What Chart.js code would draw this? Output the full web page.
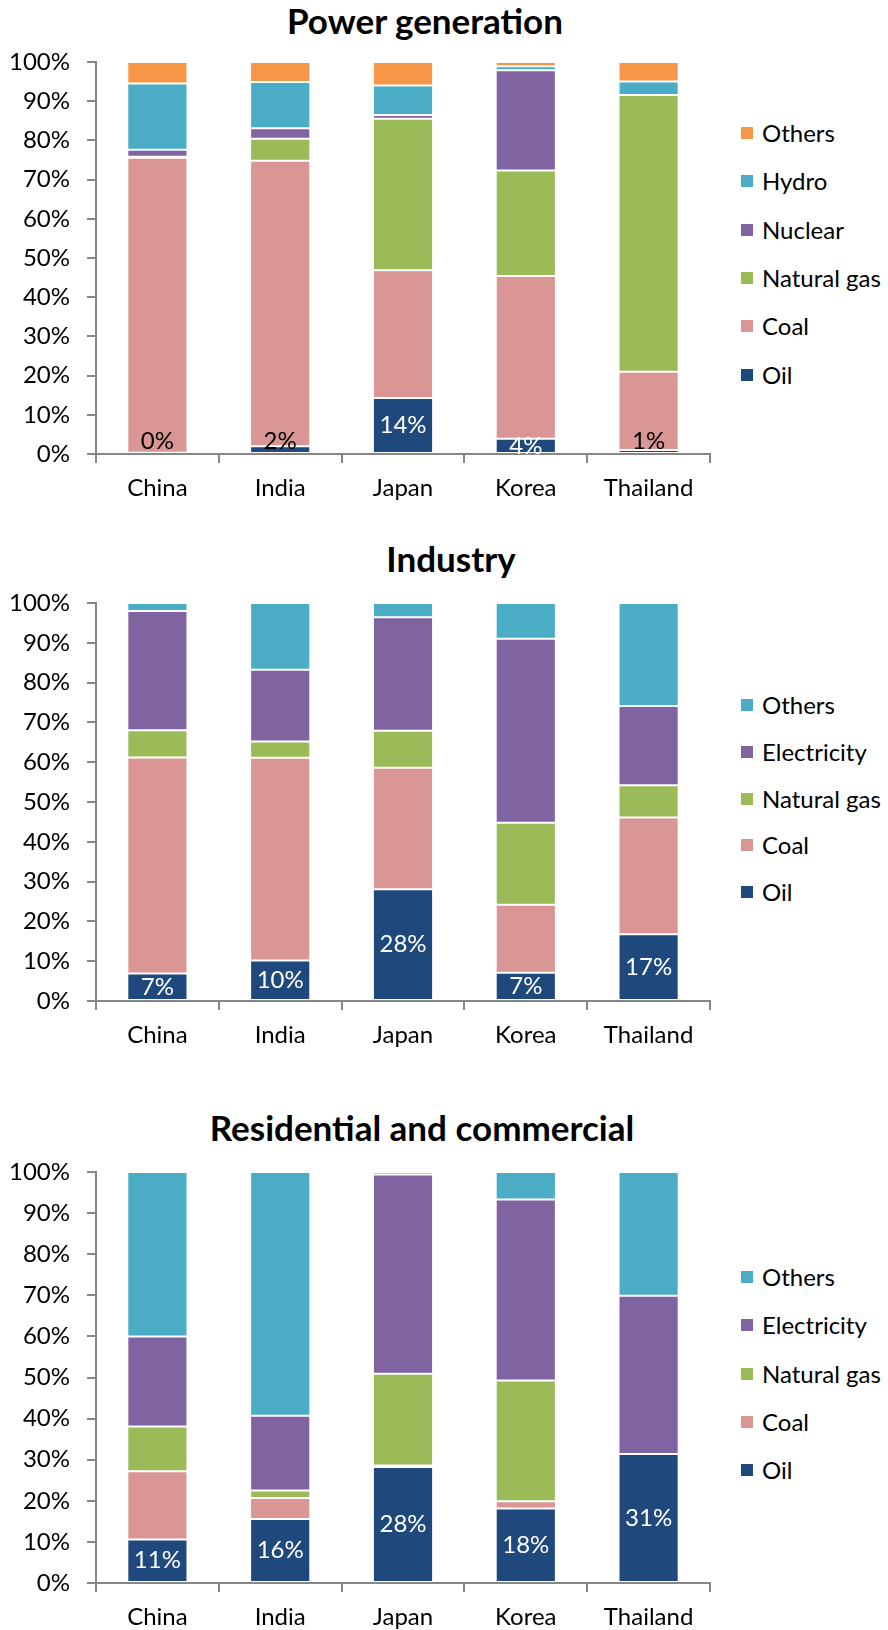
<!DOCTYPE html>
<html>
<head>
<meta charset="utf-8">
<script src="https://cdn.jsdelivr.net/npm/chart.js@4.4.1/dist/chart.umd.min.js"></script>
<style>
  html, body { margin: 0; padding: 0; background: #fff; }
  body { width: 888px; height: 1630px; position: relative; overflow: hidden; font-family: Lato, sans-serif; }
  .title { position: absolute; font-weight: bold; font-size: 35px; line-height: 35px; white-space: nowrap; color: #000; transform: translateX(-50%); }
  canvas { position: absolute; left: 0; }
  .legend { position: absolute; left: 741px; }
  .legend div { display: flex; align-items: center; font-size: 24px; line-height: 24px; color: #000; white-space: nowrap; }
  .legend span { display: inline-block; width: 12px; height: 12px; margin-right: 9px; }
</style>
</head>
<body>
<div class="title" style="left:425px; top:3px;">Power generation</div>
<div class="title" style="left:451px; top:541px;">Industry</div>
<div class="title" style="left:422px; top:1110px;">Residential and commercial</div>

<canvas id="powerChart" width="720" height="506" style="top:0px;"></canvas>
<canvas id="industryChart" width="720" height="512" style="top:541px;"></canvas>
<canvas id="residentialChart" width="720" height="525" style="top:1110px;"></canvas>

<div class="legend" id="powerLegend" style="top:109px;"></div>
<div class="legend" id="industryLegend" style="top:682px;"></div>
<div class="legend" id="residentialLegend" style="top:1253px;"></div>

<script>
const countries = ["China", "India", "Japan", "Korea", "Thailand"];
const yTicks = [0, 10, 20, 30, 40, 50, 60, 70, 80, 90, 100];

// Power generation mix (% share)
const powerOil = [0.3, 2.0, 14.3, 3.9, 1.0];
const powerCoal = [75.3, 72.8, 32.6, 41.5, 20.0];
const powerGas = [0.2, 5.6, 38.6, 26.9, 70.6];
const powerNuclear = [1.8, 2.7, 1.0, 25.6, 0];
const powerHydro = [16.9, 11.8, 7.5, 1.0, 3.4];
const powerOthers = [5.5, 5.1, 6.0, 1.1, 5.0];

// Industry final energy (% share)
const industryOil = [6.9, 10.2, 28.1, 7.1, 16.8];
const industryCoal = [54.3, 50.9, 30.5, 17.1, 29.3];
const industryGas = [6.8, 4.1, 9.3, 20.6, 8.1];
const industryElectricity = [30.0, 18.0, 28.5, 46.2, 19.9];
const industryOthers = [2.0, 16.8, 3.6, 9.0, 25.9];

// Residential and commercial final energy (% share)
const residentialOil = [10.6, 15.6, 28.2, 18.1, 31.4];
const residentialCoal = [16.6, 5.1, 0.4, 1.8, 0];
const residentialGas = [10.9, 1.8, 22.3, 29.4, 0];
const residentialElectricity = [21.9, 18.2, 48.5, 44.0, 38.5];
const residentialOthers = [40.0, 59.3, 0.6, 6.7, 30.1];

const colors = {
  oil: "#1f497d",
  coal: "#d99694",
  gas: "#9bbb59",
  purple: "#8064a2",
  teal: "#4bacc6",
  orange: "#f79646"
};

const axisColor = "#868686";
const font = { family: "Lato", size: 24 };

function dataset(label, data, color) {
  return {
    label: label,
    data: data,
    backgroundColor: color,
    borderColor: "#ffffff",
    borderWidth: 1,
    borderSkipped: false,
    barPercentage: 0.49,
    categoryPercentage: 1
  };
}

// percentage labels on the oil segment (first dataset)
const oilLabels = {
  id: "oilLabels",
  afterDatasetsDraw(chart) {
    const ctx = chart.ctx;
    const meta = chart.getDatasetMeta(0);
    const values = chart.data.datasets[0].data;
    ctx.save();
    ctx.font = "24px Lato";
    ctx.textAlign = "center";
    ctx.textBaseline = "middle";
    meta.data.forEach((bar, i) => {
      const v = values[i];
      let y = (bar.y + bar.base) / 2;
      if (v < 3) {
        y = bar.base - 12;
        ctx.fillStyle = "#000000";
      } else {
        ctx.fillStyle = "#ffffff";
      }
      ctx.fillText(Math.round(v) + "%", bar.x, y);
    });
    ctx.restore();
  }
};

function makeChart(canvasId, datasets) {
  return new Chart(document.getElementById(canvasId), {
    type: "bar",
    data: { labels: countries, datasets: datasets },
    options: {
      responsive: false,
      animation: false,
      layout: { padding: { top: 62, right: 10, left: 0, bottom: 0 } },
      plugins: {
        legend: { display: false },
        title: { display: false },
        tooltip: { enabled: false }
      },
      scales: {
        x: {
          stacked: true,
          grid: { drawOnChartArea: false, drawTicks: true, tickLength: 9, color: axisColor, lineWidth: 2, offset: true },
          border: { display: true, color: axisColor, width: 2 },
          ticks: { font: font, color: "#000000", padding: 11, maxRotation: 0 },
          afterFit(scale) { scale.height = 52; }
        },
        y: {
          stacked: true,
          min: 0,
          max: 100,
          afterBuildTicks(scale) { scale.ticks = yTicks.map(v => ({ value: v })); },
          grid: { drawOnChartArea: false, drawTicks: true, tickLength: 9, color: axisColor, lineWidth: 2 },
          border: { display: true, color: axisColor, width: 2 },
          ticks: { font: font, color: "#000000", padding: 17, callback: v => v + "%" },
          afterFit(scale) { scale.width = 96; }
        }
      }
    },
    plugins: [oilLabels]
  });
}

function buildLegend(elId, chart, step) {
  const el = document.getElementById(elId);
  chart.data.datasets.slice().reverse().forEach(ds => {
    const row = document.createElement("div");
    row.style.height = step + "px";
    const box = document.createElement("span");
    box.style.background = ds.backgroundColor;
    row.appendChild(box);
    row.appendChild(document.createTextNode(ds.label));
    el.appendChild(row);
  });
}

const powerChart = makeChart("powerChart", [
  dataset("Oil", powerOil, colors.oil),
  dataset("Coal", powerCoal, colors.coal),
  dataset("Natural gas", powerGas, colors.gas),
  dataset("Nuclear", powerNuclear, colors.purple),
  dataset("Hydro", powerHydro, colors.teal),
  dataset("Others", powerOthers, colors.orange)
]);

const industryChart = makeChart("industryChart", [
  dataset("Oil", industryOil, colors.oil),
  dataset("Coal", industryCoal, colors.coal),
  dataset("Natural gas", industryGas, colors.gas),
  dataset("Electricity", industryElectricity, colors.purple),
  dataset("Others", industryOthers, colors.teal)
]);

const residentialChart = makeChart("residentialChart", [
  dataset("Oil", residentialOil, colors.oil),
  dataset("Coal", residentialCoal, colors.coal),
  dataset("Natural gas", residentialGas, colors.gas),
  dataset("Electricity", residentialElectricity, colors.purple),
  dataset("Others", residentialOthers, colors.teal)
]);

buildLegend("powerLegend", powerChart, 48.3);
buildLegend("industryLegend", industryChart, 46.7);
buildLegend("residentialLegend", residentialChart, 48.3);
</script>
</body>
</html>
